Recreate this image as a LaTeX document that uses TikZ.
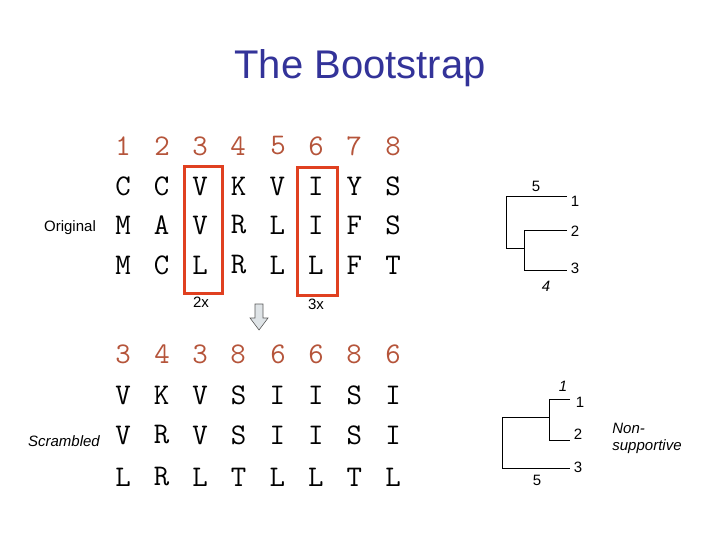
\documentclass[tikz,border=0pt]{standalone}
\usepackage{fontspec}
\setmainfont{Liberation Sans}
\begin{document}
\begin{tikzpicture}[x=1pt,y=-1pt,
  seq/.style={font=\ttfamily\fontsize{30}{30}\selectfont, inner sep=0pt},
  num/.style={seq, text=numcol},
  lbl/.style={font=\fontsize{15}{16}\selectfont, inner sep=1pt},
  tl/.style={font=\fontsize{15}{16}\selectfont, inner sep=0pt},
  redbox/.style={draw=boxred, line width=3pt},
  br/.style={draw=black, line width=0.8pt}]
\definecolor{numcol}{HTML}{B5543A}
\definecolor{boxred}{HTML}{E04020}
\definecolor{titleblue}{HTML}{333399}
\useasboundingbox (0,0) rectangle (720,540);
\node[font=\fontsize{40}{44}\selectfont, text=titleblue] (title) at (360,68) {The Bootstrap};
% original
\foreach \c/\x in {1/123,2/162,3/200,4/238,5/278,6/316,7/354,8/393} \node[num] (n\c) at (\x,146) {\c};
\foreach \r/\y/\s in {a/186/{C,C,V,K,V,I,Y,S},b/225/{M,A,V,R,L,I,F,S},c/265/{M,C,L,R,L,L,F,T}}{
  \foreach \ch [count=\i] in \s { \pgfmathsetmacro\xx{123+(\i-1)*38.57} \node[seq] (o\r\i) at (\xx,\y) {\ch}; }}
\node[lbl] (orig) at (70,228) {Original};
\draw[redbox] (184,167) rectangle (222,293);
\draw[redbox] (297,168) rectangle (337,295);
\node[lbl] (x2) at (201,302) {2x};
\node[lbl] (x3) at (316,304) {3x};
\draw[draw=gray!70!black, fill=cyan!15!gray!25, line width=0.6pt] (255,304) -- (263,304) -- (263,318) -- (268,318) -- (259,330) -- (250,318) -- (255,318) -- cycle;
% scrambled
\foreach \c/\x in {3/123,4/162,3/200,8/238,6/278,6/316,8/354,6/393} \node[num] at (\x,354) {\c};
\foreach \r/\y/\s in {a/395/{V,K,V,S,I,I,S,I},b/435/{V,R,V,S,I,I,S,I},c/477/{L,R,L,T,L,L,T,L}}{
  \foreach \ch [count=\i] in \s { \pgfmathsetmacro\xx{123+(\i-1)*38.57} \node[seq] (s\r\i) at (\xx,\y) {\ch}; }}
\node[lbl, font=\itshape\fontsize{15}{16}\selectfont] (scr) at (64,441) {Scrambled};
% tree 1
\coordinate (r1t) at (506,196); \coordinate (r1b) at (506,248);
\coordinate (i1) at (524,248);
\draw[br] (567,196) -- (r1t) -- (r1b) -- (i1);
\draw[br] (567,230) -- (524,230) -- (524,270) -- (567,270);
\node[tl] (t1a) at (575,201) {1};
\node[tl] (t1b) at (575,231) {2};
\node[tl] (t1c) at (575,268) {3};
\node[tl] (t1s) at (536,186) {5};
\node[tl, font=\itshape\fontsize{15}{16}\selectfont] (t1f) at (546,286) {4};
% tree 2
\draw[br] (549,417) -- (502,417) -- (502,468) -- (570,468);
\draw[br] (570,399) -- (549,399) -- (549,440) -- (570,440);
\node[tl] (t2a) at (580,402) {1};
\node[tl] (t2b) at (578,434) {2};
\node[tl] (t2c) at (578,467) {3};
\node[tl, font=\itshape\fontsize{15}{16}\selectfont] (t2s) at (563,386) {1};
\node[tl] (t2f) at (537,480) {5};
\node[font=\itshape\fontsize{15}{17}\selectfont, align=left, inner sep=0pt] (ns) at (647,438) {Non-\\supportive};
\end{tikzpicture}
\end{document}
